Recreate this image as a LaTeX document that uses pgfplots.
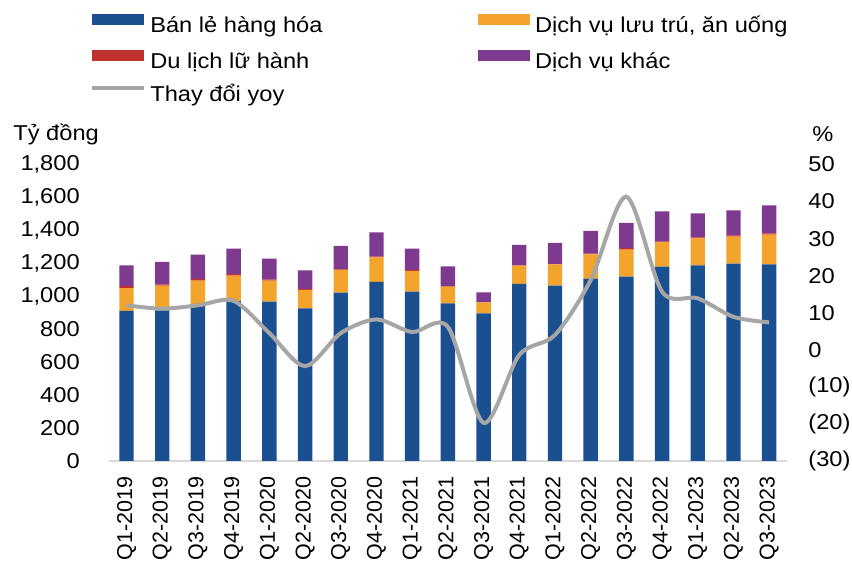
\documentclass[border=0pt]{standalone}
\usepackage{pgfplots}
\usepackage{pgfplotstable}
\pgfplotsset{compat=1.18}
\usepackage{fontspec}
\setmainfont{Liberation Sans}[FakeStretch=1.1]
\newfontfamily\xlabfont{Liberation Sans}
\definecolor{cblue}{HTML}{1A4F90}
\definecolor{corange}{HTML}{F2A42D}
\definecolor{cred}{HTML}{C0302C}
\definecolor{cpurple}{HTML}{7D3A8E}
\definecolor{cline}{HTML}{A6A6A6}
\definecolor{cbase}{HTML}{D9D9D9}

\pgfplotstableread{
x blue orange red purple yoy
0 911 138 12 126 12.0
1 915 150 8 136 11.1
2 947 148 10 148 12.0
3 971 154 10 154 13.2
4 967 128 6 128 4.5
5 927 112 4 114 -4.4
6 1022 138 4 142 4.5
7 1088 148 4 148 8.2
8 1028 126 4 131 4.8
9 957 102 2 120 6.2
10 896 67 2 58 -19.7
11 1076 110 2 124 -1.4
12 1064 130 2 128 4.0
13 1107 148 4 138 18.8
14 1119 164 10 153 41.3
15 1180 148 4 184 15.7
16 1188 164 6 146 13.9
17 1198 164 8 152 8.9
18 1194 180 8 170 7.4
}\datatable

\pgfplotsset{
  patchlegend/.style={legend image code/.code={\fill[##1] (0pt,1.1pt) rectangle (26pt,6.6pt);}},
  linelegend/.style={legend image code/.code={\draw[##1] (0pt,3.85pt) -- (26pt,3.85pt);}},
}

\begin{document}
\begin{tikzpicture}[font=\fontsize{10.75pt}{12pt}\selectfont]
\path[use as bounding box] (0,0) rectangle (426pt,284pt);
\begin{axis}[
  at={(54.35pt,53.5pt)}, anchor=south west,
  scale only axis, width=339.15pt, height=148.25pt,
  xmin=-0.5, xmax=18.5, ymin=0, ymax=1800,
  ybar stacked, bar width=7.2pt,
  xtick={0,...,18},
  xticklabels={Q1-2019,Q2-2019,Q3-2019,Q4-2019,Q1-2020,Q2-2020,Q3-2020,Q4-2020,Q1-2021,Q2-2021,Q3-2021,Q4-2021,Q1-2022,Q2-2022,Q3-2022,Q4-2022,Q1-2023,Q2-2023,Q3-2023},
  ytick={0,200,...,1800},
  yticklabels={0,200,400,600,800,{1,000},{1,200},{1,400},{1,600},{1,800}},
  tick style={draw=none},
  axis x line*=bottom, axis y line*=left,
  x axis line style={cbase, line width=1pt, -},
  y axis line style={draw=none},
  xticklabel style={yshift=-7.8pt, rotate=90, anchor=east, inner sep=0pt, font=\xlabfont\fontsize{10.75pt}{12pt}\selectfont},
  yticklabel style={anchor=east, inner sep=0pt, xshift=-14.3pt},
  legend columns=2,
  legend cell align=left,
  legend style={at={(axis description cs:-0.028,1.507)}, anchor=north west, draw=none, fill=none,
    inner sep=0pt, outer sep=0pt, row sep=5.9pt,
    nodes={inner sep=0pt, text height=8pt, text depth=2.5pt},
    /tikz/every odd column/.append style={column sep=2.5pt},
    /tikz/every even column/.append style={column sep=0pt}},
]
\addplot[fill=cblue, draw=none, patchlegend] table[x=x,y=blue]{\datatable};
\addlegendentry{\makebox[163.85pt][l]{Bán lẻ hàng hóa}}
\addplot[fill=corange, draw=none, patchlegend] table[x=x,y=orange]{\datatable};
\addlegendentry{Dịch vụ lưu trú, ăn uống}
\addplot[fill=cred, draw=none, patchlegend] table[x=x,y=red]{\datatable};
\addlegendentry{\makebox[163.85pt][l]{Du lịch lữ hành}}
\addplot[fill=cpurple, draw=none, patchlegend] table[x=x,y=purple]{\datatable};
\addlegendentry{Dịch vụ khác}
\addlegendimage{linelegend, cline, line width=1.8pt}
\addlegendentry{\makebox[163.85pt][l]{Thay đổi yoy}}
\end{axis}
\begin{axis}[
  at={(54.35pt,53.5pt)}, anchor=south west,
  scale only axis, width=339.15pt, height=148.25pt,
  xmin=-0.5, xmax=18.5, ymin=-30, ymax=50,
  axis x line=none, axis y line*=right,
  y axis line style={draw=none},
  tick style={draw=none},
  xtick=\empty,
  ytick={-30,-20,...,50},
  yticklabels={(30),(20),(10),0,10,20,30,40,50},
  yticklabel style={anchor=west, inner sep=0pt, xshift=10.5pt},
]
\addplot[cline, line width=2pt, smooth, tension=0.5] table[x=x,y=yoy]{\datatable};
\end{axis}
\node[anchor=base west, inner sep=0pt] at (6.5pt,213.5pt) {Tỷ đồng};
\node[anchor=base west, inner sep=0pt] at (406pt,213.2pt) {\%};
\end{tikzpicture}
\end{document}
